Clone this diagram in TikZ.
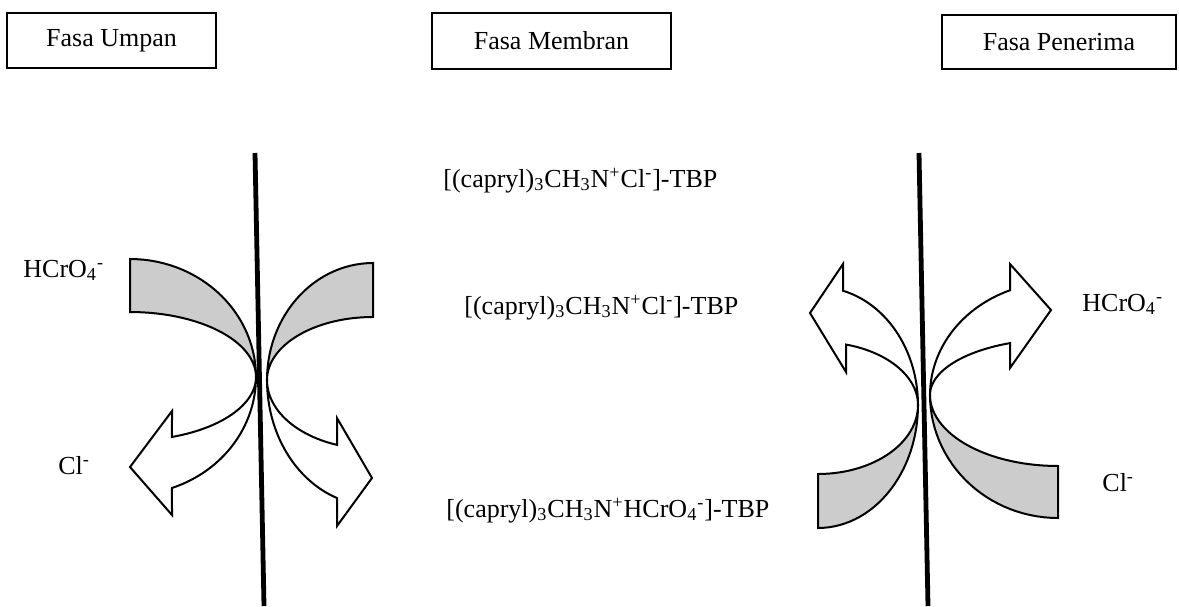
\documentclass[tikz,border=0pt]{standalone}
\usepackage{fontspec}
\setmainfont{Liberation Serif}
\definecolor{bandgray}{gray}{0.8}
\tikzset{
  membrane/.style={line width=2.4pt, line cap=butt},
  band/.style={draw, line width=1pt, fill=bandgray, line join=miter},
  flowarrow/.style={draw, line width=1pt, fill=white, line join=miter},
  phasebox/.style={draw, line width=1pt, inner sep=0pt, font=\fontsize{13}{15}\selectfont},
  chem/.style={inner sep=0pt, anchor=base west, font=\fontsize{13}{15}\selectfont},
}
\begin{document}
\begin{tikzpicture}[x=0.5pt,y=-0.5pt]
\useasboundingbox (0,0) rectangle (1179,606);

% phase boxes
\node[phasebox, minimum width=104.5pt, minimum height=27.5pt] (umpan) at (111.5,40.5) {Fasa Umpan};
\node[phasebox, minimum width=119.5pt, minimum height=28pt] (membran) at (551.5,41) {Fasa Membran};
\node[phasebox, minimum width=117pt, minimum height=27pt] (penerima) at (1059,42) {Fasa Penerima};

% ---- left membrane, feed side ----
\path[band] (130,259)
  -- plot[domain=-90:0, samples=30] ({130+126*cos(\x)},{377+118*sin(\x)})
  -- plot[domain=0:-90, samples=30] ({130+126*cos(\x)},{377+65*sin(\x)})
  -- cycle;
\path[flowarrow] (256,377)
  -- plot[domain=0:70.53, samples=30] ({130+126*cos(\x)},{377+117.7*sin(\x)})
  -- (172,515) -- (130,467) -- (172,411)
  -- plot[domain=70.53:0, samples=30] ({130+126*cos(\x)},{377+63.6*sin(\x)})
  -- cycle;

% ---- left membrane, membrane side ----
\path[band] (373,263)
  -- plot[domain=270:180, samples=30] ({373+106*cos(\x)},{380+117*sin(\x)})
  -- plot[domain=180:270, samples=30] ({373+106*cos(\x)},{380+63*sin(\x)})
  -- cycle;
\path[flowarrow] (267,380)
  -- plot[domain=180:109.85, samples=30] ({373+106*cos(\x)},{380+125.5*sin(\x)})
  -- (337,526) -- (372,478) -- (337,418)
  -- plot[domain=109.85:180, samples=30] ({373+106*cos(\x)},{380+69*sin(\x)})
  -- cycle;

% ---- right membrane, membrane side ----
\path[flowarrow] (918,405)
  -- plot[domain=0:-75.52, samples=30] ({818+100*cos(\x)},{405+118*sin(\x)})
  -- (843,264) -- (810,313) -- (846,372)
  -- plot[domain=-73.74:0, samples=30] ({818+100*cos(\x)},{405+63*sin(\x)})
  -- cycle;
\path[band] (918,405)
  -- plot[domain=0:90, samples=30] ({818+100*cos(\x)},{405+123*sin(\x)})
  -- plot[domain=90:0, samples=30] ({818+100*cos(\x)},{405+69*sin(\x)})
  -- cycle;

% ---- right membrane, stripping side ----
\path[flowarrow] (930,395)
  -- plot[domain=180:247.98, samples=30] ({1058+128*cos(\x)},{395+113*sin(\x)})
  -- (1010,264) -- (1051,310) -- (1010,368)
  -- plot[domain=247.98:180, samples=30] ({1058+128*cos(\x)},{395+56*sin(\x)})
  -- cycle;
\path[band] (930,395)
  -- plot[domain=180:90, samples=30] ({1058+128*cos(\x)},{395+123*sin(\x)})
  -- plot[domain=90:180, samples=30] ({1058+128*cos(\x)},{395+71*sin(\x)})
  -- cycle;

% membranes
\coordinate (m1top) at (255,153);
\coordinate (m1bot) at (264,606);
\coordinate (m2top) at (919,153);
\coordinate (m2bot) at (928,606);
\draw[membrane] (m1top) -- (m1bot);
\draw[membrane] (m2top) -- (m2bot);

% labels
\node[chem] (hcro4L) at (23,277) {HCrO\textsubscript{4}\textsuperscript{-}};
\node[chem] (clL) at (58,474) {Cl\textsuperscript{-}};
\node[chem] (hcro4R) at (1082,311) {HCrO\textsubscript{4}\textsuperscript{-}};
\node[chem] (clR) at (1102,491) {Cl\textsuperscript{-}};
\node[chem] (carrier1) at (443,187) {[(capryl)\textsubscript{3}CH\textsubscript{3}N\textsuperscript{+}Cl\textsuperscript{-}]-TBP};
\node[chem] (carrier2) at (464,314) {[(capryl)\textsubscript{3}CH\textsubscript{3}N\textsuperscript{+}Cl\textsuperscript{-}]-TBP};
\node[chem] (complex) at (446,517) {[(capryl)\textsubscript{3}CH\textsubscript{3}N\textsuperscript{+}HCrO\textsubscript{4}\textsuperscript{-}]-TBP};
\end{tikzpicture}
\end{document}
